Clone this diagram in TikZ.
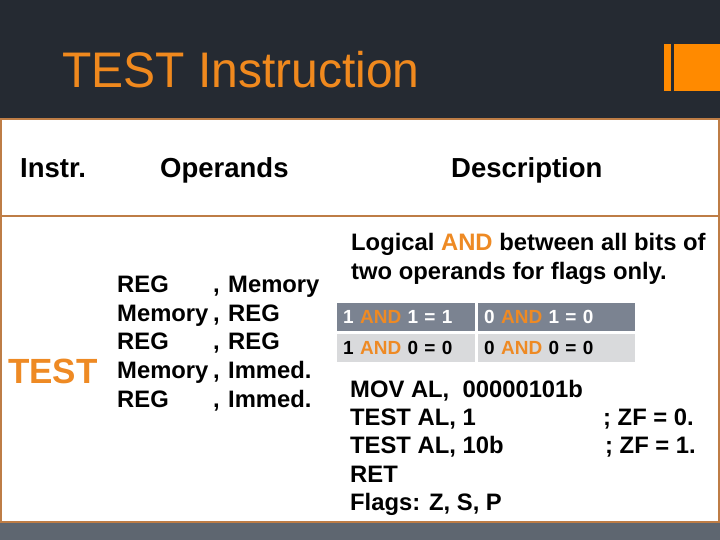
\documentclass[tikz,border=0pt]{standalone}
\usepackage{fontspec}
\setmainfont{Liberation Sans}
\definecolor{slatebg}{RGB}{37,42,50}
\definecolor{stripgray}{RGB}{94,102,112}
\definecolor{rimbrown}{RGB}{190,125,70}
\definecolor{titleorange}{RGB}{240,137,30}
\definecolor{andorange}{RGB}{238,138,36}
\definecolor{blockorange}{RGB}{255,138,0}
\definecolor{rowdark}{RGB}{123,131,145}
\definecolor{rowlight}{RGB}{217,218,220}

\begin{document}
\begin{tikzpicture}[x=1pt, y=-1pt,
	txt/.style={anchor=base west, inner sep=0pt, font=\fontsize{23.8}{29}\selectfont\bfseries},
	hdr/.style={anchor=base west, inner sep=0pt, font=\fontsize{27.5}{32}\selectfont\bfseries},
	cell/.style={anchor=north west, minimum height=28pt, inner xsep=6pt, inner ysep=0pt,
		align=left, font=\fontsize{19}{22}\selectfont\bfseries},
	cellA/.style={cell, minimum width=138pt, text width=126pt},
	cellB/.style={cell, minimum width=157pt, text width=145pt}]
	\useasboundingbox (0,0) rectangle (720,540);
	% background bands
	\fill[slatebg] (0,0) rectangle (720,119);
	\fill[stripgray] (0,522) rectangle (720,540);
	\fill[white] (1,119) rectangle (719,522);
	\draw[rimbrown, line width=2pt] (1,119) rectangle (719,522);
	\draw[rimbrown, line width=2pt] (1,216) -- (719,216);
	\fill[blockorange] (664,44) rectangle (671,91);
	\fill[blockorange] (674,44) rectangle (720,91);
	\node[anchor=base west, inner sep=0pt, text=titleorange, font=\fontsize{50}{60}\selectfont] (title) at (62,88) {\scalebox{0.96}[1]{TEST Instruction}};
	% header row
	\node[hdr] (instr) at (20,178) {Instr.};
	\node[hdr] (operands) at (160,178) {Operands};
	\node[hdr] (descr) at (451,178) {Description};
	% instruction and operands
	\node[anchor=base west, inner sep=0pt, text=andorange, font=\fontsize{35}{40}\selectfont\bfseries] (test) at (8,383) {TEST};
	\foreach \lhs/\rhs/\yy [count=\i] in {REG/Memory/292, Memory/REG/321, REG/REG/349.5, Memory/Immed./378, REG/Immed./407} {
		\node[txt] (lhs\i) at (117,\yy) {\lhs};
		\node[txt] (comma\i) at (213,\yy) {,};
		\node[txt] (rhs\i) at (228,\yy) {\rhs};
	}
	% description
	\node[txt] (logic1) at (351,251) {Logical \textcolor{andorange}{AND} between all bits of};
	\node[txt] (logic2) at (351,279) {two operands for flags only.};
	\node[cellA, fill=rowdark, text=white] (t11) at (337,303) {1 \textcolor{andorange}{AND} 1 = 1};
	\node[cellB, fill=rowdark, text=white] (t12) at (478,303) {0 \textcolor{andorange}{AND} 1 = 0};
	\node[cellA, fill=rowlight] (t21) at (337,334) {1 \textcolor{andorange}{AND} 0 = 0};
	\node[cellB, fill=rowlight] (t22) at (478,334) {0 \textcolor{andorange}{AND} 0 = 0};
	\node[txt] (code1) at (350,397) {MOV AL,\ \ 00000101b};
	\node[txt] (code2) at (350,425) {TEST AL, 1};
	\node[txt] (code3) at (350,453) {TEST AL, 10b};
	\node[txt] (code4) at (350,482) {RET};
	\node[txt] (code5) at (350,510) {Flags: Z, S, P};
	\node[txt] (note2) at (603,425) {; ZF = 0.};
	\node[txt] (note3) at (605,453) {; ZF = 1.};
\end{tikzpicture}
\end{document}
